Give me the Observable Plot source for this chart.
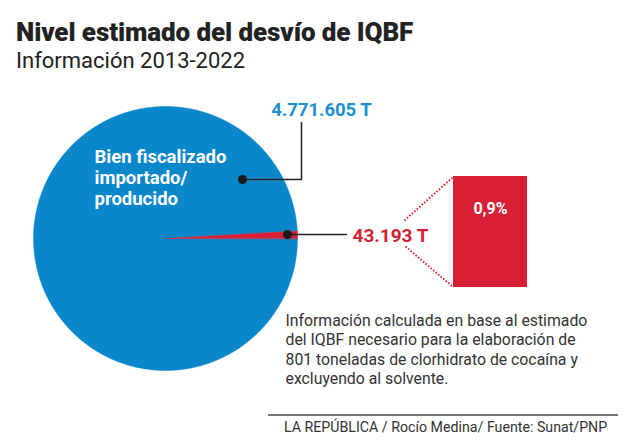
<!DOCTYPE html>
<html><head><meta charset="utf-8">
<script src="https://cdn.jsdelivr.net/npm/d3@7"></script>
<script src="https://cdn.jsdelivr.net/npm/@observablehq/plot@0.6"></script>
<style>
body{margin:0;background:#fff;font-family:Roboto,"Noto Sans",sans-serif;}
#wrap{position:relative;width:640px;height:440px;overflow:hidden;background:#fff;}
#title{position:absolute;left:16px;top:19px;font-weight:900;font-size:26px;line-height:26px;color:#222;letter-spacing:-0.1px;white-space:nowrap;}
#subtitle{position:absolute;left:16px;top:50px;font-weight:400;font-size:22px;line-height:22px;color:#222;white-space:nowrap;}
#chart{position:absolute;left:0;top:80px;}
#rule{position:absolute;left:268px;top:414px;width:350px;height:2px;background:#777;}
#credit{position:absolute;left:284px;top:420px;font-size:14.2px;line-height:14px;color:#333;white-space:nowrap;}
</style></head>
<body>
<div id="wrap">
  <div id="title"></div>
  <div id="subtitle"></div>
  <div id="chart"></div>
  <div id="rule"></div>
  <div id="credit"></div>
</div>
<script>
// ---- data ----
const titleText = "Nivel estimado del desvío de IQBF";
const subtitleText = "Información 2013-2022";
const categories = ["Bien fiscalizado\nimportado/\nproducido", "Desvío estimado"];
const values = [4771605, 43193];
const unit = "T";
const noteLines = [
  "Información calculada en base al estimado",
  "del IQBF necesario para la elaboración de",
  "801 toneladas de clorhidrato de cocaína y",
  "excluyendo al solvente."
];
const creditText = "LA REPÚBLICA / Rocío Medina/ Fuente: Sunat/PNP";

// ---- styles / layout ----
const BLUE = "#0a87cb", RED = "#d91f35", BLUE_TXT = "#1b8fd2", RED_TXT = "#d42033";
const W = 640, H = 325;
const cx = 165, cy = 158, R = 132;

document.getElementById("title").textContent = titleText;
document.getElementById("subtitle").textContent = subtitleText;
document.getElementById("credit").textContent = creditText;

const es = d3.formatLocale({decimal: ",", thousands: ".", grouping: [3], currency: ["", " €"]});
const fmtNum = es.format(",d");
const fmtPct = es.format(".1%");
const total = d3.sum(values);

const arcs = d3.pie().sort(null).startAngle(Math.PI / 2).endAngle(Math.PI / 2 + 2 * Math.PI)(values);
const slicePts = arcs.map((a, i) => {
  const pts = [{x: cx, y: cy, k: i}];
  const n = Math.max(4, Math.ceil((a.endAngle - a.startAngle) / (Math.PI / 360)));
  for (let j = 0; j <= n; j++) {
    const t = a.startAngle + (a.endAngle - a.startAngle) * j / n;
    pts.push({x: cx + R * Math.sin(t), y: cy - R * Math.cos(t), k: i});
  }
  return pts;
});

// annotation anchors
const blueDot = {x: 242, y: 99};
const redDot = {x: 287, y: 154};
const blueLeader = [blueDot, {x: 301, y: 99}, {x: 301, y: 42}];
const redLeader = [redDot, {x: 346, y: 154}];
const box = {x1: 453, x2: 527, y1: 96, y2: 207};
const zoomLinks = [
  {x1: 404, y1: 140, x2: 452, y2: 97},
  {x1: 405, y1: 166, x2: 452, y2: 206}
];

const plot = Plot.plot({
  width: W, height: H, margin: 0,
  x: {domain: [0, W], range: [0, W], axis: null},
  y: {domain: [0, H], range: [0, H], axis: null},
  style: {fontFamily: "Roboto, sans-serif", background: "transparent"},
  marks: [
    Plot.line(slicePts[0], {x: "x", y: "y", fill: BLUE, stroke: BLUE, strokeWidth: 0.5, curve: "linear-closed"}),
    Plot.line(slicePts[1], {x: "x", y: "y", fill: RED, stroke: RED, strokeWidth: 0.5, curve: "linear-closed"}),
    Plot.text([categories[0]], {x: 94, y: 68, text: d => d, lineAnchor: "top", textAnchor: "start", fill: "white", fontSize: 18.5, fontWeight: 700, lineHeight: 1.13}),
    Plot.line(blueLeader, {x: "x", y: "y", stroke: "#222", strokeWidth: 1.5}),
    Plot.line(redLeader, {x: "x", y: "y", stroke: "#222", strokeWidth: 1.5}),
    Plot.dot([blueDot, redDot], {x: "x", y: "y", r: 4.5, fill: "#1a1a1a"}),
    Plot.text([values[0]], {x: 321, y: 30, text: d => `${fmtNum(d)} ${unit}`, fill: BLUE_TXT, fontSize: 18.5, fontWeight: 700, textAnchor: "middle"}),
    Plot.text([values[1]], {x: 352, y: 155, text: d => `${fmtNum(d)} ${unit}`, fill: RED_TXT, fontSize: 19, fontWeight: 700, textAnchor: "start"}),
    Plot.link(zoomLinks, {x1: "x1", y1: "y1", x2: "x2", y2: "y2", stroke: RED, strokeWidth: 2, strokeDasharray: "1.5,1.8"}),
    Plot.rect([box], {x1: "x1", x2: "x2", y1: "y1", y2: "y2", fill: RED}),
    Plot.text([values[1] / total], {x: (box.x1 + box.x2) / 2, y: 128, text: d => fmtPct(d), fill: "white", fontSize: 16, fontWeight: 700, textAnchor: "middle"}),
    Plot.text([noteLines.join("\n")], {x: 285, y: 232, text: d => d, lineAnchor: "top", textAnchor: "start", fill: "#333", fontSize: 15.8, lineHeight: 1.22})
  ]
});
document.getElementById("chart").appendChild(plot);
</script>
</body></html>
